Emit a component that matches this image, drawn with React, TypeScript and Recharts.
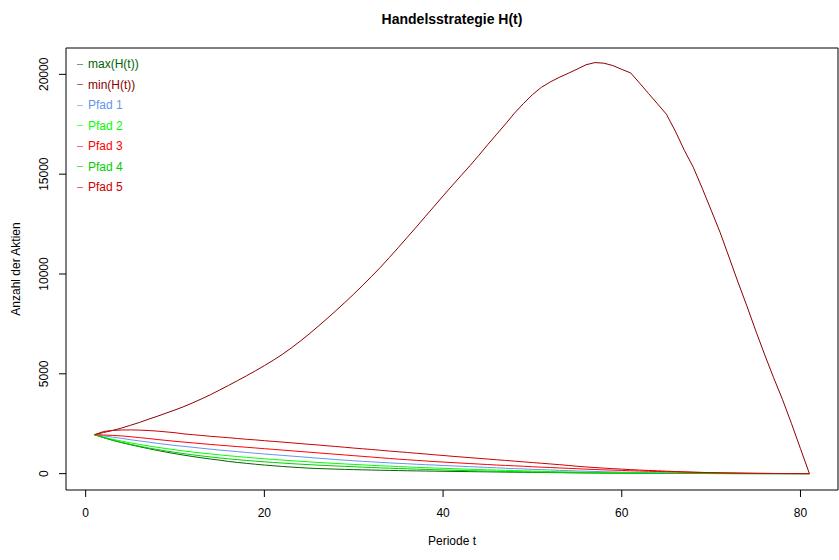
import React from 'react';
import {
  LineChart,
  Line,
  XAxis,
  YAxis,
  ReferenceArea
} from 'recharts';

// Anzahl der Aktien je Periode t = 1..81
const maxH = [
  1950, 1800, 1670, 1555, 1450, 1350, 1255, 1165, 1080, 1000,
  925, 855, 790, 730, 675, 610, 560, 515, 470, 430,
  395, 360, 330, 300, 275, 255, 240, 225, 213, 200,
  190, 180, 170, 161, 152, 144, 137, 130, 124, 118,
  112, 106, 100, 94, 88, 82, 76, 71, 66, 61,
  56, 52, 48, 44, 40, 36, 33, 30, 27, 24,
  21, 19, 17, 15, 13, 11, 9, 8, 7, 6,
  5, 4, 3, 2, 2, 1, 1, 0, 0, 0,
  0
];

const minH = [
  1950, 2060, 2160, 2280, 2420, 2560, 2720, 2870, 3030, 3190,
  3360, 3550, 3750, 3960, 4190, 4420, 4660, 4900, 5150, 5410,
  5680, 5970, 6290, 6630, 6990, 7370, 7760, 8160, 8570, 8990,
  9430, 9880, 10340, 10830, 11330, 11840, 12350, 12870, 13390, 13910,
  14420, 14920, 15420, 15940, 16480, 17000, 17520, 18060, 18540, 18980,
  19350, 19620, 19850, 20050, 20260, 20480, 20590, 20560, 20440, 20250,
  20070, 19560, 19040, 18520, 18000, 17150, 16200, 15350, 14300, 13200,
  12090, 10850, 9600, 8400, 7150, 5950, 4800, 3700, 2500, 1250,
  0
];

const pfad1 = [
  1950, 1890, 1830, 1770, 1700, 1640, 1580, 1520, 1465, 1410,
  1365, 1320, 1270, 1225, 1180, 1140, 1100, 1060, 1020, 985,
  950, 915, 880, 845, 810, 775, 740, 705, 675, 645,
  615, 590, 565, 540, 515, 495, 470, 450, 430, 410,
  390, 370, 350, 330, 310, 290, 270, 250, 235, 215,
  200, 185, 165, 150, 135, 120, 108, 96, 85, 75,
  66, 58, 50, 43, 37, 32, 27, 22, 18, 15,
  12, 10, 8, 6, 5, 4, 3, 2, 1, 0,
  0
];

const pfad2 = [
  1950, 1830, 1720, 1630, 1545, 1465, 1390, 1320, 1255, 1195,
  1135, 1080, 1030, 985, 940, 895, 855, 815, 780, 745,
  710, 680, 650, 620, 590, 560, 535, 510, 485, 460,
  440, 415, 395, 375, 355, 335, 315, 300, 280, 265,
  250, 235, 220, 205, 190, 178, 165, 152, 140, 128,
  116, 105, 95, 85, 75, 66, 58, 50, 44, 38,
  33, 28, 24, 20, 17, 14, 12, 10, 8, 6,
  5, 4, 3, 2, 2, 1, 1, 0, 0, 0,
  0
];

const pfad3 = [
  1950, 1935, 1915, 1890, 1850, 1805, 1760, 1710, 1665, 1620,
  1580, 1540, 1500, 1460, 1425, 1390, 1355, 1320, 1285, 1250,
  1215, 1180, 1145, 1110, 1075, 1040, 1005, 970, 935, 900,
  865, 830, 795, 760, 725, 695, 665, 635, 605, 580,
  555, 530, 505, 480, 455, 430, 410, 390, 370, 345,
  325, 305, 285, 265, 245, 225, 205, 190, 175, 160,
  145, 130, 118, 106, 95, 84, 74, 65, 56, 48,
  40, 33, 27, 21, 16, 12, 8, 5, 3, 1,
  0
];

const pfad4 = [
  1950, 1810, 1680, 1570, 1470, 1375, 1290, 1210, 1135, 1065,
  1000, 940, 885, 835, 785, 740, 700, 660, 625, 590,
  560, 530, 500, 475, 450, 425, 405, 385, 365, 345,
  325, 305, 288, 272, 256, 240, 225, 210, 196, 183,
  170, 158, 146, 135, 125, 115, 106, 97, 88, 80,
  72, 65, 58, 51, 45, 40, 35, 30, 26, 22,
  19, 16, 13, 11, 9, 7, 6, 5, 4, 3,
  2, 2, 1, 1, 0, 0, 0, 0, 0, 0,
  0
];

const pfad5 = [
  1950, 2110, 2165, 2185, 2190, 2180, 2160, 2130, 2090, 2050,
  1990, 1950, 1910, 1870, 1835, 1800, 1760, 1720, 1690, 1650,
  1615, 1580, 1545, 1505, 1470, 1435, 1395, 1360, 1320, 1280,
  1245, 1210, 1170, 1130, 1095, 1060, 1020, 985, 945, 910,
  870, 835, 800, 765, 730, 695, 660, 625, 590, 555,
  520, 485, 450, 410, 370, 335, 305, 275, 250, 225,
  200, 178, 158, 140, 122, 105, 90, 75, 62, 50,
  40, 32, 25, 19, 14, 10, 7, 4, 2, 1,
  0
];

const xTicks = [0, 20, 40, 60, 80];
const yTicks = [0, 5000, 10000, 15000, 20000];

// R-style axis limits (data range widened by 4%)
const xDomain: [number, number] = [-2.2, 84.2];
const yDomain: [number, number] = [-820, 21320];

const SERIES = [
  { key: 'maxH', name: 'max(H(t))', color: '#006400' },
  { key: 'minH', name: 'min(H(t))', color: '#8B0000' },
  { key: 'pfad1', name: 'Pfad 1', color: '#6495ED' },
  { key: 'pfad2', name: 'Pfad 2', color: '#00FF00' },
  { key: 'pfad3', name: 'Pfad 3', color: '#FF0000' },
  { key: 'pfad4', name: 'Pfad 4', color: '#00CD00' },
  { key: 'pfad5', name: 'Pfad 5', color: '#CD0000' }
];

const data = minH.map((v, i) => ({
  t: i + 1,
  maxH: maxH[i],
  minH: v,
  pfad1: pfad1[i],
  pfad2: pfad2[i],
  pfad3: pfad3[i],
  pfad4: pfad4[i],
  pfad5: pfad5[i]
}));

const FONT = '"Liberation Sans", Arial, Helvetica, sans-serif';

const YTick = (props: any) => {
  const { x, y, payload } = props;
  return (
    <text
      x={x}
      y={y}
      transform={`rotate(-90, ${x}, ${y})`}
      textAnchor="middle"
      fontSize={12}
      fill="#000"
      fontFamily={FONT}
    >
      {payload.value}
    </text>
  );
};

export default function App() {
  return (
    <div style={{ position: 'absolute', left: 0, top: 0, width: 839, height: 560, background: '#fff', fontFamily: FONT }}>
      <div
        style={{
          position: 'absolute',
          left: 66,
          width: 772,
          top: 10,
          textAlign: 'center',
          fontWeight: 'bold',
          fontSize: 14,
          lineHeight: '18px'
        }}
      >
        Handelsstrategie H(t)
      </div>
      <LineChart
        width={839}
        height={560}
        data={data}
        margin={{ top: 48, right: 1, bottom: 30, left: 0 }}
      >
        <XAxis
          dataKey="t"
          type="number"
          domain={xDomain}
          ticks={xTicks}
          allowDataOverflow
          axisLine={false}
          tickLine={{ stroke: '#000' }}
          tickSize={7}
          tickMargin={11}
          height={40}
          tick={{ fontSize: 12, fill: '#000', fontFamily: FONT }}
          label={{ value: 'Periode t', position: 'bottom', offset: 6, fontSize: 12, fill: '#000', fontFamily: FONT }}
        />
        <YAxis
          type="number"
          domain={yDomain}
          ticks={yTicks}
          allowDataOverflow
          axisLine={false}
          tickLine={{ stroke: '#000' }}
          tickSize={7}
          tickMargin={11}
          width={66}
          tick={<YTick />}
          label={{
            content: (p: any) => {
              const vb = p.viewBox;
              const cx = vb.x + 20;
              const cy = vb.y + vb.height / 2;
              return (
                <text
                  x={cx}
                  y={cy}
                  transform={`rotate(-90, ${cx}, ${cy})`}
                  textAnchor="middle"
                  fontSize={12}
                  fill="#000"
                  fontFamily={FONT}
                >
                  Anzahl der Aktien
                </text>
              );
            }
          }}
        />
        <ReferenceArea
          x1={xDomain[0]}
          x2={xDomain[1]}
          y1={yDomain[0]}
          y2={yDomain[1]}
          fill="none"
          fillOpacity={0}
          stroke="#000"
          strokeWidth={1}
        />
        {SERIES.map((s) => (
          <Line
            key={s.key}
            dataKey={s.key}
            name={s.name}
            type="linear"
            stroke={s.color}
            strokeWidth={1}
            dot={false}
            activeDot={false}
            isAnimationActive={false}
          />
        ))}
      </LineChart>
      {/* legend, R-style: short dash + coloured text, no frame */}
      <div style={{ position: 'absolute', left: 77, top: 54, fontSize: 12 }}>
        {SERIES.map((s) => (
          <div
            key={s.key}
            style={{ height: 20.5, color: s.color, display: 'flex', alignItems: 'center' }}
          >
            <span style={{ display: 'inline-block', width: 6, height: 1, background: s.color, opacity: 0.6, marginRight: 5 }} />
            {s.name}
          </div>
        ))}
      </div>
    </div>
  );
}
